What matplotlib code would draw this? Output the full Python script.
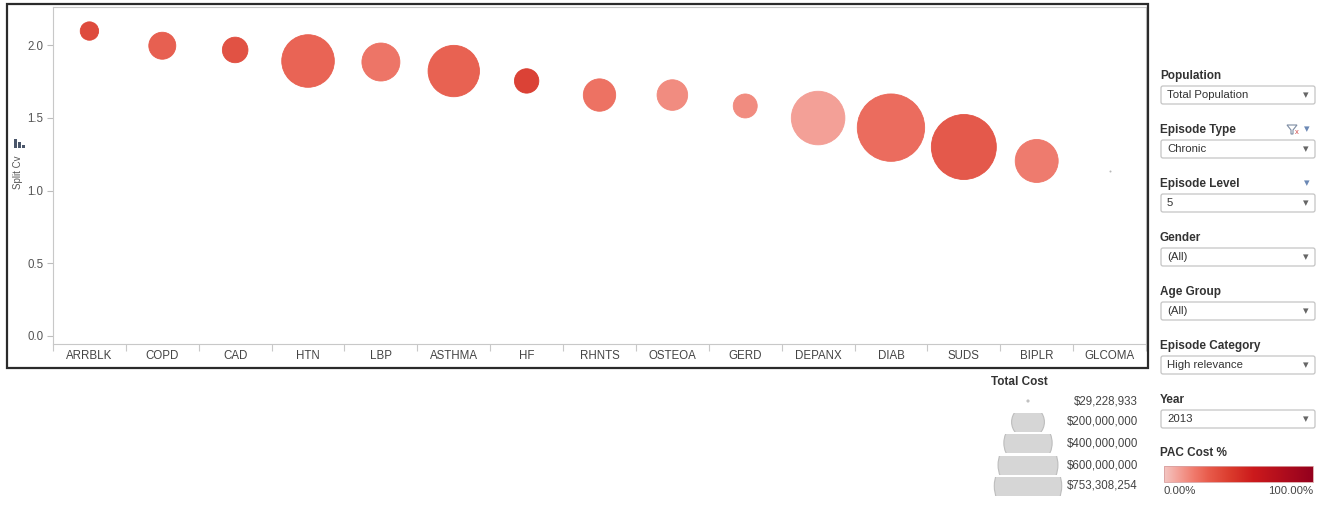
import numpy as np
import matplotlib
matplotlib.use("Agg")
import matplotlib.pyplot as plt
from matplotlib.patches import Rectangle, Circle, FancyBboxPatch, Polygon
from matplotlib.colors import LinearSegmentedColormap

plt.rcParams['font.family'] = ['Liberation Sans', 'DejaVu Sans']

# ---------------- data ----------------
categories = ["ARRBLK", "COPD", "CAD", "HTN", "LBP", "ASTHMA", "HF", "RHNTS",
              "OSTEOA", "GERD", "DEPANX", "DIAB", "SUDS", "BIPLR", "GLCOMA"]
split_cv = [2.096, 1.995, 1.966, 1.890, 1.883, 1.821, 1.753, 1.656,
            1.656, 1.581, 1.498, 1.432, 1.299, 1.203, 1.134]
total_cost = [82.6e6, 144.9e6, 133.1e6, 470.0e6, 258.9e6, 450.0e6, 123.5e6, 196.0e6,
              178.0e6, 120.4e6, 486.8e6, 753308254, 702.4e6, 323.4e6, 29228933]
pac_pct = [0.42, 0.32, 0.38, 0.30, 0.24, 0.31, 0.46, 0.25,
           0.17, 0.17, 0.11, 0.27, 0.35, 0.22, 0.10]
yticks = [0.0, 0.5, 1.0, 1.5, 2.0]
ytick_labels = ["0.0", "0.5", "1.0", "1.5", "2.0"]
size_legend_values = [29228933, 200000000, 400000000, 600000000, 753308254]
size_legend_labels = ["$29,228,933", "$200,000,000", "$400,000,000", "$600,000,000", "$753,308,254"]
filters = [("Population", "Total Population"),
           ("Episode Type", "Chronic"),
           ("Episode Level", "5"),
           ("Gender", "(All)"),
           ("Age Group", "(All)"),
           ("Episode Category", "High relevance"),
           ("Year", "2013")]

# ---------------- scales ----------------
W, H, DPI = 1323, 512, 100
cmap = LinearSegmentedColormap.from_list("pac", [
    (0.0, "#f4c6c2"), (0.10, "#f39f96"), (0.20, "#f07a6c"), (0.30, "#e85b4b"),
    (0.45, "#da3a2c"), (0.60, "#cc1a1c"), (1.0, "#94001e")])

CMIN, CMAX = 29228933, 753308254
RMIN, RMAX = 1.0, 33.7  # radii in pixels


def radius_px(c):
    return np.sqrt(RMIN ** 2 + (np.asarray(c, float) - CMIN) / (CMAX - CMIN) * (RMAX ** 2 - RMIN ** 2))


fig = plt.figure(figsize=(W / DPI, H / DPI), dpi=DPI)
fig.patch.set_facecolor("white")


def fx(x):
    return x / W


def fy(y):
    return 1 - y / H


# ---------------- main axes ----------------
L, R, T, B = 53, 1146, 7, 344
ax = fig.add_axes([fx(L), fy(B), fx(R) - fx(L), fy(T) - fy(B)])
y_per_px = 1 / 145.5
ax.set_ylim(-(B - 336) * y_per_px, (336 - T) * y_per_px)
ax.set_xlim(-0.5, len(categories) - 0.5)
x = np.arange(len(categories))
r = radius_px(total_cost)
s = (2 * r * 72 / DPI) ** 2
cols = cmap(np.array(pac_pct))
ax.scatter(x[:-1], split_cv[:-1], s=s[:-1], c=cols[:-1], edgecolors=cols[:-1],
           linewidths=0.6, alpha=0.95, zorder=3)
ax.scatter(x[-1:], split_cv[-1:], s=s[-1:], c="#b8b8b8", linewidths=0, zorder=3)

for sp in ax.spines.values():
    sp.set_color("#c8c8c8")
    sp.set_linewidth(0.8)
ax.set_yticks(yticks)
ax.set_yticklabels(ytick_labels)
ax.tick_params(axis="y", length=4, color="#bdbdbd", labelcolor="#555555", labelsize=8.3, pad=3)
ax.set_xticks(x)
ax.set_xticklabels(categories)
ax.tick_params(axis="x", which="major", length=0, labelcolor="#444444", labelsize=8.3, pad=4)
ax.set_xticks(np.arange(-0.5, len(categories)), minor=True)
ax.tick_params(axis="x", which="minor", length=5, color="#c8c8c8", width=0.8)
ax.tick_params(axis="y", which="minor", length=0)

# ---------------- overlay (pixel coords) ----------------
ov = fig.add_axes([0, 0, 1, 1], facecolor="none")
ov.set_xlim(0, W)
ov.set_ylim(H, 0)
ov.axis("off")

# outer frame
ov.add_patch(Rectangle((7, 4), 1141, 364, fill=False, ec="#2b2b2b", lw=1.6))

# y label + icon
ov.text(18, 172, "Split Cv", rotation=90, ha="center", va="center", fontsize=7, color="#555555")
for (bx, bh) in [(13.5, 9), (17.5, 6), (21.5, 3)]:
    ov.add_patch(Rectangle((bx, 148 - bh), 3, bh, fc="#4a566a", ec="none"))

# filters panel
PX0, PX1 = 1160, 1316
for i, (title, val) in enumerate(filters):
    ty = 75 + 54 * i
    ov.text(PX0, ty + 1, title, fontsize=8.5, fontweight="bold", color="#333333", ha="left", va="center")
    by = ty + 11
    ov.add_patch(FancyBboxPatch((PX0 + 1, by), PX1 - PX0 - 2, 18,
                                boxstyle="round,pad=0,rounding_size=2",
                                fc="white", ec="#c4c4c4", lw=0.9))
    ov.text(PX0 + 7, by + 9.5, val, fontsize=8.2, color="#333333", ha="left", va="center")
    ov.text(PX1 - 10, by + 9.5, "\u25be", fontsize=8, color="#666666", ha="center", va="center",
            family=["DejaVu Sans"])
    if title == "Episode Type":
        # clear-filter funnel icon (no installed glyph) drawn as a small shape
        ov.add_patch(Polygon([(1287, ty - 4), (1297, ty - 4), (1293, ty + 1), (1293, ty + 5),
                              (1291, ty + 5), (1291, ty + 1)], closed=True,
                             fill=False, ec="#7d8ca3", lw=0.8))
        ov.text(1296.5, ty + 3, "x", fontsize=5.5, color="#d04848", ha="center", va="center")
        ov.text(1307, ty, "\u25be", fontsize=8, color="#6b88b5", ha="center", va="center",
                family=["DejaVu Sans"])
    if title == "Episode Level":
        ov.text(1307, ty, "\u25be", fontsize=8, color="#6b88b5", ha="center", va="center",
                family=["DejaVu Sans"])

# PAC Cost % colour legend
ov.text(PX0, 453, "PAC Cost %", fontsize=8.5, fontweight="bold", color="#333333", ha="left", va="center")
grad = np.linspace(0, 1, 256).reshape(1, -1)
ov.imshow(grad, cmap=cmap, extent=[1164, 1313, 482, 466], aspect="auto", zorder=2)
ov.add_patch(Rectangle((1164, 466), 149, 16, fill=False, ec="#d8a0a0", lw=0.6, zorder=3))
ov.text(1164, 491, "0.00%", fontsize=8.2, color="#444444", ha="left", va="center")
ov.text(1313, 491, "100.00%", fontsize=8.2, color="#444444", ha="right", va="center")
ov.set_xlim(0, W)
ov.set_ylim(H, 0)

# Total Cost size legend
ov.text(991, 382, "Total Cost", fontsize=8.5, fontweight="bold", color="#333333", ha="left", va="center")
rows_y = [401, 422, 443, 465, 486]
for yy, v, lab in zip(rows_y, size_legend_values, size_legend_labels):
    rr = float(radius_px(v))
    circ = Circle((1028, yy), rr, fc="#d6d6d6", ec="#bdbdbd", lw=0.8, zorder=2)
    ov.add_patch(circ)
    clip = Rectangle((900, yy - 9.5), 200, 19, transform=ov.transData, fill=False, ec="none")
    ov.add_patch(clip)
    circ.set_clip_path(clip)
    ov.text(1138, yy, lab, fontsize=8.3, color="#444444", ha="right", va="center")

fig.savefig("out.png", dpi=DPI, facecolor="white")
